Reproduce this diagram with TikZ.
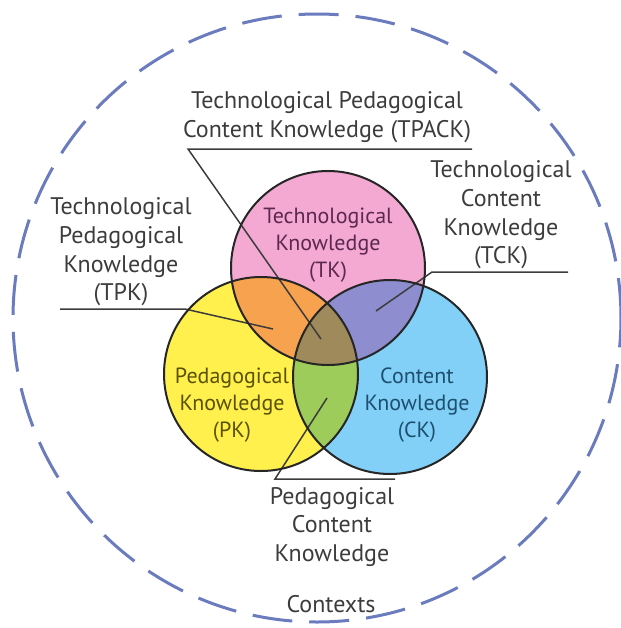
\documentclass[tikz,border=0pt]{standalone}
\usepackage{fontspec}
\setmainfont{PT Sans}
\definecolor{tkpink}{HTML}{F3A9D1}
\definecolor{pkyellow}{HTML}{FFF04E}
\definecolor{ckblue}{HTML}{82D0F7}
\definecolor{tpkorange}{HTML}{F7A24F}
\definecolor{tckpurple}{HTML}{8E8DCF}
\definecolor{pckgreen}{HTML}{9DCC5A}
\definecolor{tpackolive}{HTML}{9E8A5A}
\definecolor{ctxblue}{HTML}{6A7BBE}
\definecolor{labelgray}{HTML}{3C3C3C}
\tikzset{
  outer/.style={align=center, text=labelgray, font=\fontsize{12}{14.3}\selectfont},
  inner/.style={align=center, font=\fontsize{11}{13.5}\selectfont},
  leader/.style={draw=labelgray, line width=0.75pt},
  ring/.style={draw=black!85, line width=1pt}
}
\begin{document}
\begin{tikzpicture}[x=0.5pt,y=-0.5pt]
		\useasboundingbox (0,0) rectangle (621,628);
		\coordinate (tk) at (328,268);
		\coordinate (pk) at (261,374);
		\coordinate (ck) at (390,377);

		% Contexts
		\draw[ctxblue, line width=1.5pt, dash pattern=on 20pt off 8.5pt] (317,318) circle (152pt);

		% Circles and overlaps
		\fill[tkpink] (tk) circle (48.5pt);
		\fill[pkyellow] (pk) circle (48.5pt);
		\fill[ckblue] (ck) circle (48.5pt);
		\begin{scope}
			\clip (tk) circle (48.5pt);
			\fill[tpkorange] (pk) circle (48.5pt);
			\fill[tckpurple] (ck) circle (48.5pt);
			\clip (pk) circle (48.5pt);
			\fill[tpackolive] (ck) circle (48.5pt);
		\end{scope}
		\begin{scope}
			\clip (pk) circle (48.5pt);
			\clip (ck) circle (48.5pt);
			\fill[pckgreen] (ck) circle (48.5pt);
			\clip (tk) circle (48.5pt);
			\fill[tpackolive] (tk) circle (48.5pt);
		\end{scope}

		% Labels
		\node[outer] (tpack) at (327,117) {Technological Pedagogical\\Content Knowledge (TPACK)};
		\node[outer] (tck) at (501,215) {Technological\\Content\\Knowledge\\(TCK)};
		\node[outer] (tpk) at (121,252) {Technological\\Pedagogical\\Knowledge\\(TPK)};
		\node[outer] (pck) at (332,527) {Pedagogical\\Content\\Knowledge};
		\node[outer] (ctx) at (331,604) {Contexts};

		% Leaders
		\coordinate (tpack-r) at (472,149);
		\coordinate (tpack-l) at (188,149);
		\coordinate (tpack-e) at (321,339);
		\coordinate (tck-r) at (568,272);
		\coordinate (tck-l) at (432,272);
		\coordinate (tck-e) at (376,311);
		\coordinate (tpk-l) at (60,309);
		\coordinate (tpk-r) at (185,309);
		\coordinate (tpk-e) at (273,329);
		\coordinate (pck-r) at (395,479);
		\coordinate (pck-l) at (275,479);
		\coordinate (pck-e) at (327,398);
		\draw[leader] (tpack-r) -- (tpack-l) -- (tpack-e);
		\draw[leader] (tck-r) -- (tck-l) -- (tck-e);
		\draw[leader] (tpk-l) -- (tpk-r) -- (tpk-e);
		\draw[leader] (pck-r) -- (pck-l) -- (pck-e);

		\draw[ring] (tk) circle (48.5pt);
		\draw[ring] (pk) circle (48.5pt);
		\draw[ring] (ck) circle (48.5pt);

		\node[inner, text={rgb,255:red,92;green,40;blue,80}] (tklabel) at (328,245) {Technological\\Knowledge\\(TK)};
		\node[inner, text={rgb,255:red,90;green,82;blue,0}] (pklabel) at (232,405) {Pedagogical\\Knowledge\\(PK)};
		\node[inner, text={rgb,255:red,29;green,79;blue,110}] (cklabel) at (417,405) {Content\\Knowledge\\(CK)};
	\end{tikzpicture}
\end{document}
